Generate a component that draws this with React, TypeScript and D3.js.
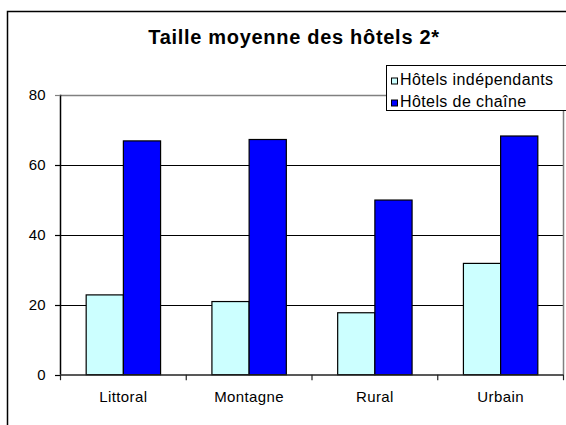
import React, { useEffect, useRef } from 'react';
import * as d3 from 'd3';

// chart data
const categories = ['Littoral', 'Montagne', 'Rural', 'Urbain'];
const seriesNames = ['Hôtels indépendants', 'Hôtels de chaîne'];
const independants = [22.8, 20.9, 17.7, 31.8];
const chaines = [66.8, 67.2, 49.9, 68.2];
const yTicks = [0, 20, 40, 60, 80];

const colors = ['#CCFFFF', '#0000FF'];
const font = 'Arial, "Liberation Sans", sans-serif';

const App = () => {
  const svgRef = useRef<SVGSVGElement>(null);

  useEffect(() => {
    const svg = d3.select(svgRef.current);
    svg.selectAll('*').remove();

    const W = 566, H = 425;
    const plot = { left: 60.5, right: 563.5, top: 94.7, bottom: 374.7 };

    svg.append('rect').attr('width', W).attr('height', H).attr('fill', '#fff');

    // outer chart frame (runs past the window on right/bottom)
    svg.append('rect')
      .attr('x', 7.5).attr('y', 11.5)
      .attr('width', 700).attr('height', 500)
      .attr('fill', 'none').attr('stroke', '#000').attr('stroke-width', 1.5);

    // title
    svg.append('text')
      .attr('x', 294).attr('y', 44)
      .attr('text-anchor', 'middle')
      .attr('font-family', font).attr('font-weight', 'bold')
      .attr('font-size', 20).attr('letter-spacing', 0.7)
      .text('Taille moyenne des hôtels 2*');

    // scales
    const x0 = d3.scaleBand().domain(categories).range([plot.left, plot.right]).paddingInner(0);
    const bw = x0.bandwidth();
    const barW = bw / (2 + 1.38);
    const offset = (bw - 2 * barW) / 2;
    const x1 = d3.scaleBand().domain(seriesNames).range([offset, offset + 2 * barW]);
    const y = d3.scaleLinear().domain([0, 80]).range([plot.bottom, plot.top]);

    // gridlines
    svg.append('g').selectAll('line')
      .data(yTicks.filter(d => d > 0))
      .enter().append('line')
      .attr('x1', plot.left).attr('x2', plot.right)
      .attr('y1', d => Math.round(y(d)) + 0.5).attr('y2', d => Math.round(y(d)) + 0.5)
      .attr('stroke', d => (d === 80 ? '#808080' : '#000'))
      .attr('stroke-width', d => (d === 80 ? 1.5 : 1));

    // right border of plot area
    svg.append('line')
      .attr('x1', plot.right).attr('x2', plot.right)
      .attr('y1', y(80)).attr('y2', plot.bottom)
      .attr('stroke', '#808080').attr('stroke-width', 1.5);

    // bars
    const data = categories.map((c, i) => ({ cat: c, values: [independants[i], chaines[i]] }));
    const groups = svg.append('g').selectAll('g')
      .data(data)
      .enter().append('g')
      .attr('transform', d => 'translate(' + x0(d.cat) + ',0)');

    groups.selectAll('rect')
      .data(d => d.values.map((v, j) => ({ name: seriesNames[j], v, j })))
      .enter().append('rect')
      .attr('x', d => x1(d.name) as number)
      .attr('y', d => y(d.v))
      .attr('width', x1.bandwidth())
      .attr('height', d => plot.bottom - y(d.v))
      .attr('fill', d => colors[d.j])
      .attr('stroke', '#000').attr('stroke-width', 1.2);

    // y axis
    svg.append('line')
      .attr('x1', plot.left).attr('x2', plot.left)
      .attr('y1', y(80)).attr('y2', plot.bottom)
      .attr('stroke', '#000').attr('stroke-width', 1.5);

    svg.append('g').selectAll('line')
      .data(yTicks)
      .enter().append('line')
      .attr('x1', plot.left - 5.5).attr('x2', plot.left)
      .attr('y1', d => Math.round(y(d)) + 0.5).attr('y2', d => Math.round(y(d)) + 0.5)
      .attr('stroke', d => (d === 80 ? '#808080' : '#000'))
      .attr('stroke-width', 1.2);

    svg.append('g').selectAll('text')
      .data(yTicks)
      .enter().append('text')
      .attr('x', 46).attr('y', d => y(d) + 5)
      .attr('text-anchor', 'end')
      .attr('font-family', font).attr('font-size', 15)
      .attr('letter-spacing', 0.3)
      .text(d => d);

    // x axis
    svg.append('line')
      .attr('x1', plot.left).attr('x2', plot.right)
      .attr('y1', plot.bottom + 0.3).attr('y2', plot.bottom + 0.3)
      .attr('stroke', '#222').attr('stroke-width', 1.5);

    const bounds = categories.map(c => x0(c) as number).concat([plot.right]);
    svg.append('g').selectAll('line')
      .data(bounds)
      .enter().append('line')
      .attr('x1', d => d).attr('x2', d => d)
      .attr('y1', plot.bottom).attr('y2', plot.bottom + 5.5)
      .attr('stroke', '#222').attr('stroke-width', 1.2);

    svg.append('g').selectAll('text')
      .data(categories)
      .enter().append('text')
      .attr('x', d => (x0(d) as number) + bw / 2)
      .attr('y', 401.7)
      .attr('text-anchor', 'middle')
      .attr('font-family', font).attr('font-size', 15)
      .attr('letter-spacing', 0.4)
      .text(d => d);

    // legend
    const legend = svg.append('g');
    legend.append('rect')
      .attr('x', 386.5).attr('y', 65.5)
      .attr('width', 250).attr('height', 45)
      .attr('fill', '#fff').attr('stroke', '#000').attr('stroke-width', 1);

    const items = legend.selectAll('g.item')
      .data(seriesNames)
      .enter().append('g')
      .attr('class', 'item')
      .attr('transform', (d, i) => 'translate(0,' + i * 22 + ')');

    items.append('rect')
      .attr('x', 391.5).attr('y', 78)
      .attr('width', 6).attr('height', 6)
      .attr('fill', (d, i) => colors[i])
      .attr('stroke', '#000').attr('stroke-width', 1);

    items.append('text')
      .attr('x', 400).attr('y', 84.5)
      .attr('font-family', font).attr('font-size', 16)
      .attr('letter-spacing', 0.4)
      .text(d => d);
  }, []);

  return (
    <svg ref={svgRef} width="566" height="425"
         style={{ position: 'absolute', left: 0, top: 0 }} />
  );
};

export default App;
